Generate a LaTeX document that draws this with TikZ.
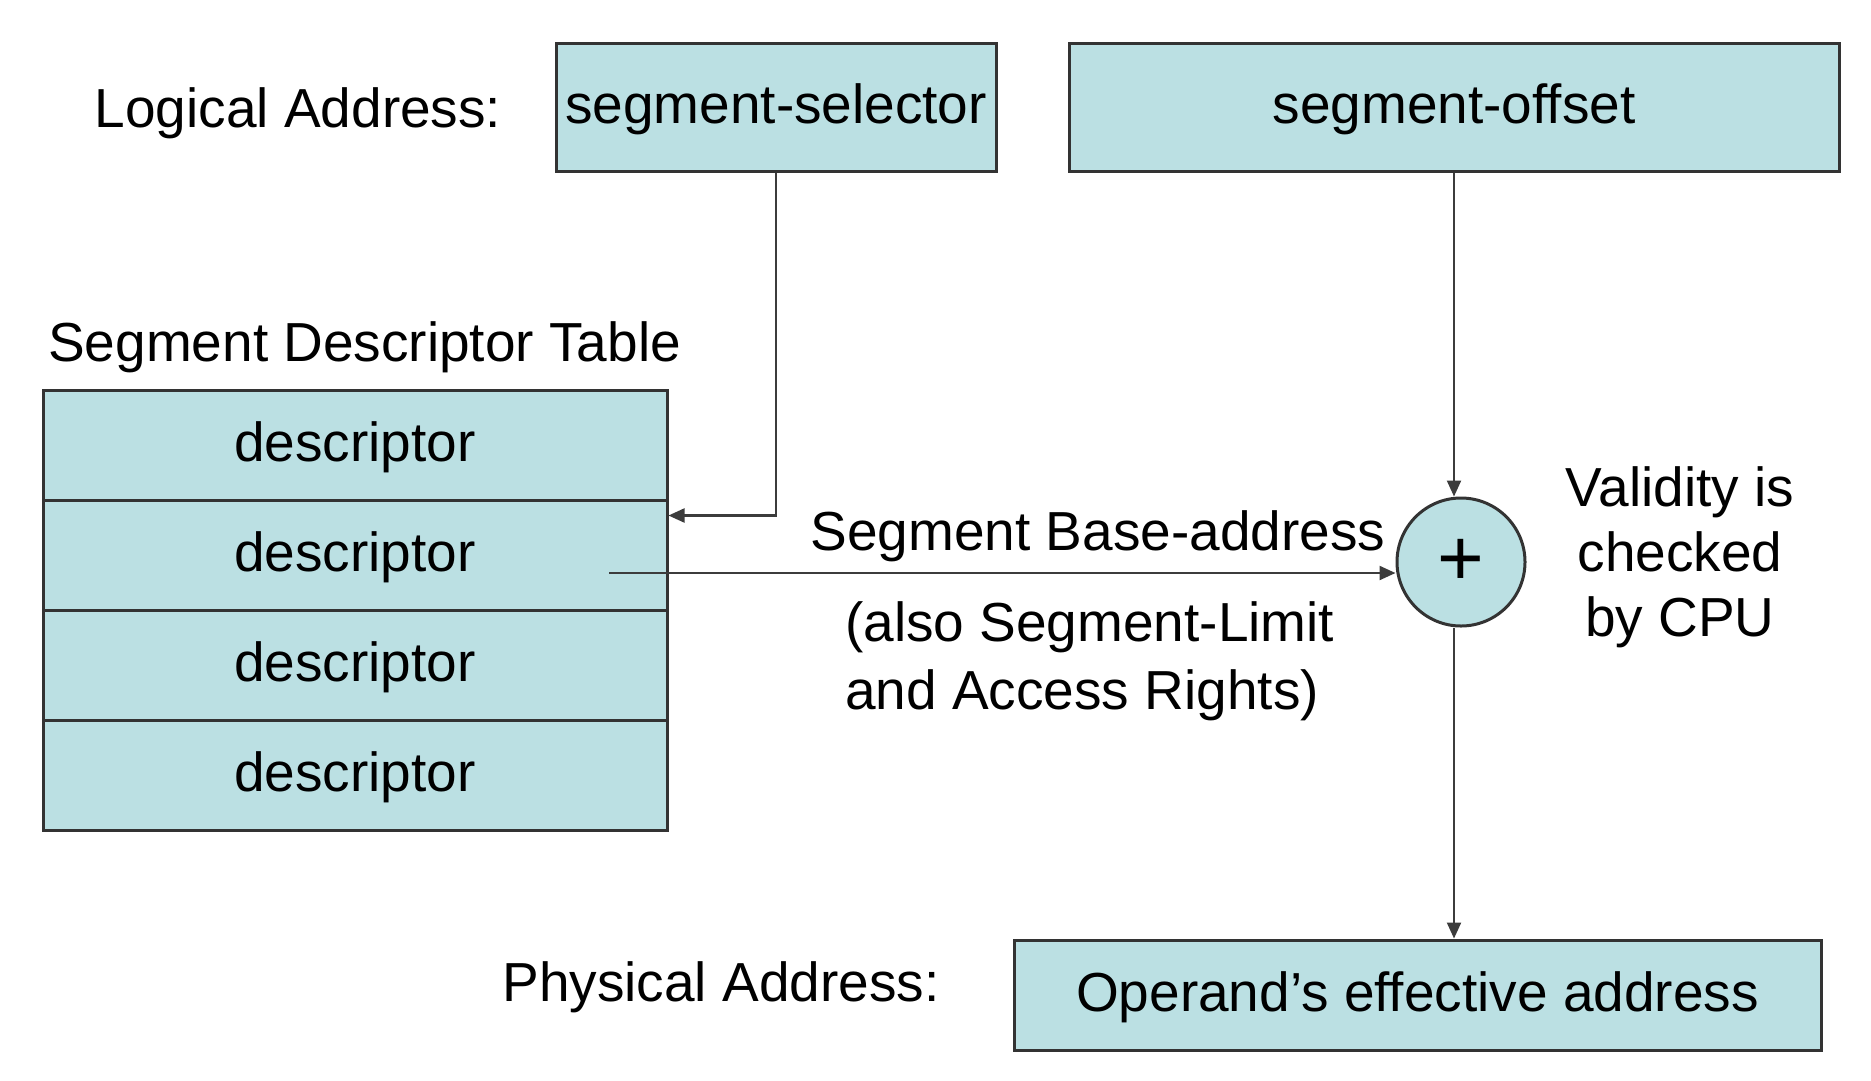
\documentclass[tikz,border=0pt]{standalone}
\usepackage{fontspec}
\setmainfont{Liberation Sans}
\usetikzlibrary{arrows.meta}
\definecolor{boxfill}{HTML}{BBE0E3}
\definecolor{boxline}{HTML}{333333}
\definecolor{arrline}{HTML}{3C3C3C}
\begin{document}
\begin{tikzpicture}[x=1pt,y=-1pt,
  every node/.style={inner sep=0pt, font=\fontsize{55}{68}\selectfont},
  box/.style={draw=boxline, line width=3pt, fill=boxfill, rectangle, text height=40pt, text depth=8pt},
  arr/.style={draw=arrline, line width=2.2pt, -{Triangle[length=16pt,width=14pt]}},
  lbl/.style={text=black}]
\useasboundingbox[fill=white] (0,0) rectangle (1871,1080);

% top boxes
\node[lbl] (la) at (298,113) {Logical Address:};
\node[box, minimum width=440pt, minimum height=128pt] (sel) at (776,107) {segment-selector};
\node[box, minimum width=770pt, minimum height=128pt] (off) at (1454,107) {segment-offset};

% table
\node[lbl, anchor=west] (sdt) at (48,347) {Segment Descriptor Table};
\node[box, minimum width=624pt, minimum height=110pt] (r1) at (355,445) {descriptor};
\node[box, minimum width=624pt, minimum height=110pt] (r2) at (355,555) {descriptor};
\node[box, minimum width=624pt, minimum height=110pt] (r3) at (355,665) {descriptor};
\node[box, minimum width=624pt, minimum height=110pt] (r4) at (355,775) {descriptor};

% adder
\node[draw=boxline, line width=3pt, fill=boxfill, circle, minimum size=128pt, font=\fontsize{80}{80}\selectfont] (add) at (1461,562) {+};

% labels
\node[lbl] (sba) at (1098,536) {Segment Base-address};
\node[lbl, align=left, anchor=west] (also) at (845,661) {(also Segment-Limit\\and Access Rights)};
\node[lbl, align=center, font=\fontsize{55}{65}\selectfont] (val) at (1680,557) {Validity is\\checked\\by CPU};

% bottom
\node[lbl] (pa) at (721,987) {Physical Address:};
\node[box, minimum width=807pt, minimum height=110pt] (opd) at (1417.5,995) {Operand’s effective address};

% connectors
\coordinate (bs) at (609,573);
\draw[arr] (sel.south) |- ([yshift=-17pt]r2.north east);
\draw[arr] (bs) -- (bs -| add.west);
\draw[arr] (off.south) -- (off.south |- add.north);
\draw[arr] (off.south |- add.south) -- (off.south |- opd.north);
\end{tikzpicture}
\end{document}
